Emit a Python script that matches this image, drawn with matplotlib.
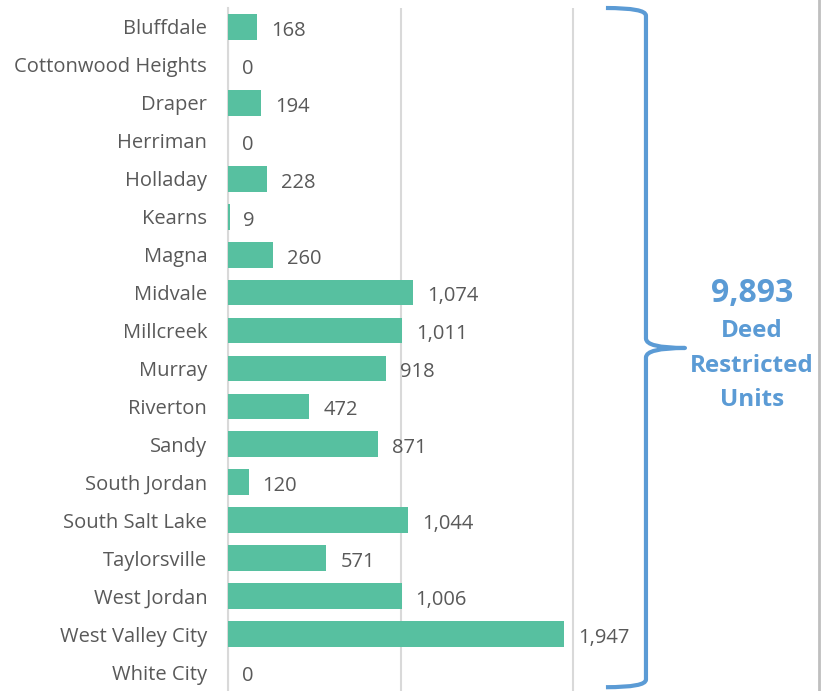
import matplotlib.pyplot as plt
from matplotlib.path import Path
from matplotlib.patches import PathPatch
from matplotlib.lines import Line2D

plt.rcParams['font.family'] = ['Open Sans', 'DejaVu Sans']

# Deed restricted units by city
cities = ['Bluffdale', 'Cottonwood Heights', 'Draper', 'Herriman', 'Holladay',
          'Kearns', 'Magna', 'Midvale', 'Millcreek', 'Murray', 'Riverton',
          'Sandy', 'South Jordan', 'South Salt Lake', 'Taylorsville',
          'West Jordan', 'West Valley City', 'White City']
units = [168, 0, 194, 0, 228, 9, 260, 1074, 1011, 918, 472, 871, 120,
         1044, 571, 1006, 1947, 0]
total = sum(units)

bar_color = '#57C0A0'
text_color = '#595959'
blue = '#5B9BD5'

fig = plt.figure(figsize=(8.22, 6.91), dpi=100)
ax = fig.add_axes([228 / 822, 0, 414 / 822, 683 / 691])

y = list(range(len(cities)))
ax.barh(y, units, height=0.68, color=bar_color, zorder=3)
ax.set_ylim(len(cities) - 0.5, -0.5)
ax.set_xlim(0, 2400)
ax.set_yticks(y)
ax.set_yticklabels(cities, fontsize=14.5, color=text_color, va='center_baseline')
ax.tick_params(axis='y', length=0, pad=15)
ax.set_xticks([0, 1000, 2000])
ax.tick_params(axis='x', length=0, labelbottom=False)
ax.grid(axis='x', color='#D9D9D9', linewidth=1.5, zorder=0)
for s in ['top', 'right', 'bottom']:
    ax.spines[s].set_visible(False)
ax.spines['left'].set_color('#D9D9D9')
ax.spines['left'].set_linewidth(1.5)

for i, v in enumerate(units):
    ax.annotate(f"{v:,}", (v, i), xytext=(10, -1), textcoords='offset points',
                va='center_baseline', ha='left', fontsize=14.5, color=text_color)

# curly brace on the right
x0, xv, xt = 2191, 2423, 2649
top, mid, bot = -0.5, 8.46, 17.4
verts = [(x0, top), (xv, top), (xv, top + 0.2),
         (xv, mid - 0.25), (xv, mid), (xt, mid),
         (xv, mid), (xv, mid + 0.25),
         (xv, bot - 0.2), (xv, bot), (x0, bot)]
codes = [Path.MOVETO, Path.CURVE3, Path.CURVE3,
         Path.LINETO, Path.CURVE3, Path.CURVE3,
         Path.CURVE3, Path.CURVE3,
         Path.LINETO, Path.CURVE3, Path.CURVE3]
brace = PathPatch(Path(verts, codes), facecolor='none', edgecolor=blue,
                  linewidth=3, clip_on=False, capstyle='butt', joinstyle='round')
ax.add_patch(brace)

fig.text(752 / 822, 1 - 293 / 691, f"{total:,}", color=blue, fontsize=23,
         fontweight='bold', ha='center', va='center')
for label, ypx in [('Deed', 331), ('Restricted', 366), ('Units', 400)]:
    fig.text(752 / 822, 1 - ypx / 691, label, color=blue, fontsize=17.5,
             fontweight='bold', ha='center', va='center')

# screenshot border on the right edge
fig.add_artist(Line2D([819 / 822, 819 / 822], [0, 1], color='#BFBFBF',
                      linewidth=2, transform=fig.transFigure))

fig.savefig('out.png', dpi=100)
